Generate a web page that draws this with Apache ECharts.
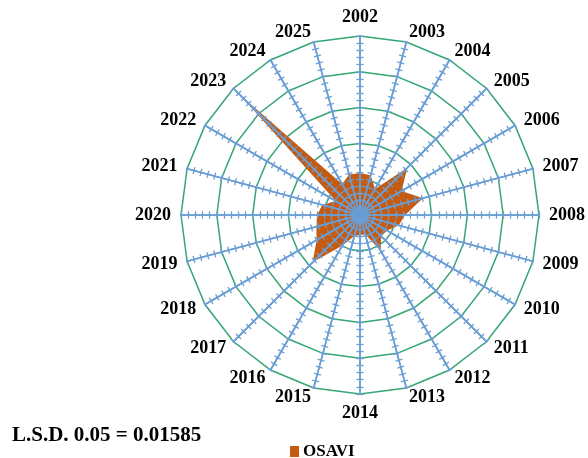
<!DOCTYPE html>
<html>
<head>
<meta charset="utf-8">
<script src="https://cdn.jsdelivr.net/npm/echarts@6/dist/echarts.min.js"></script>
<style>
  html, body { margin: 0; padding: 0; background: #ffffff; }
  #chart { width: 588px; height: 458px; }
</style>
</head>
<body>
<div id="chart"></div>
<script>
// Years around the radar, clockwise from the top
const years = ['2002', '2003', '2004', '2005', '2006', '2007', '2008', '2009',
  '2010', '2011', '2012', '2013', '2014', '2015', '2016', '2017',
  '2018', '2019', '2020', '2021', '2022', '2023', '2024', '2025'];

// OSAVI value for each year (same order as years)
const osavi = [0.117, 0.115, 0.084, 0.187, 0.134, 0.182, 0.126, 0.112,
  0.087, 0.084, 0.115, 0.056, 0.056, 0.061, 0.098, 0.187,
  0.140, 0.126, 0.120, 0.109, 0.078, 0.480, 0.100, 0.117];

const seriesName = 'OSAVI';
const lsdText = 'L.S.D. 0.05 = 0.01585';
const axisMax = 0.5;
const splitCount = 25;

// ECharts lays indicators out counter-clockwise, so keep the first year on top
// and walk the rest backwards to read clockwise.
const order = [0].concat(years.map((_, i) => i).slice(1).reverse());
const indicators = order.map(i => ({ name: years[i], min: 0, max: axisMax }));
const values = order.map(i => osavi[i]);

const serif = '"Liberation Serif", "Times New Roman", serif';
const green = '#35a673';
const blue = '#6a9ed4';
const orange = '#c55a11';

// Only every fifth ring is drawn in green
const ringColors = [green, 'rgba(0,0,0,0)', 'rgba(0,0,0,0)', 'rgba(0,0,0,0)', 'rgba(0,0,0,0)'];

const center = [360, 215];
const radius = 179;

// Axis spokes with tick marks on one side; a negative length puts them on the other side
function tickRadar(len) {
  return {
    indicator: indicators,
    center: center,
    radius: radius,
    shape: 'polygon',
    splitNumber: splitCount,
    z: 5,
    axisName: { show: false },
    splitLine: { show: false },
    splitArea: { show: false },
    axisLine: { show: true, lineStyle: { color: blue, width: 1.6 } },
    axisTick: { show: true, length: len, lineStyle: { color: blue, width: 1.3 } },
    axisLabel: { show: false }
  };
}

const chart = echarts.init(document.getElementById('chart'));
chart.setOption({
  backgroundColor: '#ffffff',
  animation: false,
  title: {
    text: lsdText,
    left: 7,
    top: 420,
    textStyle: { fontFamily: serif, fontWeight: 'bold', fontSize: 21, color: '#000' }
  },
  legend: {
    data: [seriesName],
    left: 285,
    top: 438,
    icon: 'rect',
    itemWidth: 9,
    itemHeight: 11,
    itemGap: 5,
    textStyle: { fontFamily: serif, fontWeight: 'bold', fontSize: 17, color: '#000', padding: [0, 0, 0, -1] }
  },
  radar: [
    {
      indicator: indicators,
      center: center,
      radius: radius,
      shape: 'polygon',
      splitNumber: splitCount,
      axisNameGap: 10,
      axisName: { color: '#000', fontFamily: serif, fontWeight: 'bold', fontSize: 18 },
      splitLine: { show: true, lineStyle: { color: ringColors, width: 1.5 } },
      splitArea: { show: false },
      axisLine: { show: false },
      axisTick: { show: false },
      axisLabel: { show: false }
    },
    tickRadar(3.6),
    tickRadar(-3.6)
  ],
  series: [{
    type: 'radar',
    name: seriesName,
    radarIndex: 0,
    z: 2,
    symbol: 'none',
    lineStyle: { width: 0 },
    itemStyle: { color: orange },
    areaStyle: { color: orange, opacity: 1 },
    data: [{ value: values, name: seriesName }]
  }]
});
</script>
</body>
</html>
